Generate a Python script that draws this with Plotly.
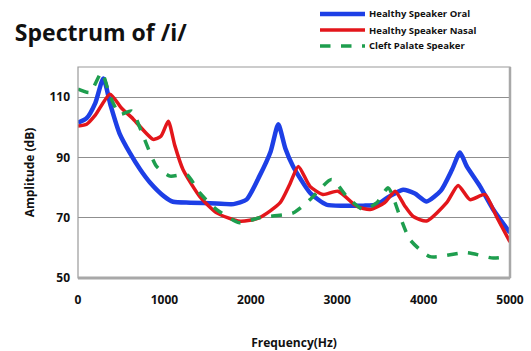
import plotly.graph_objects as go

oral_f = [0, 100, 200, 293, 380, 480, 600, 720, 833, 1000, 1100, 1300, 1600, 1800, 1950, 2100, 2230, 2318, 2400, 2490, 2685, 2878, 3100, 3300, 3457, 3600, 3762, 3900, 4035, 4200, 4330, 4421, 4500, 4653, 4800, 5000]
oral_a = [101.5, 103, 108, 116.2, 107, 98, 91.5, 86, 81.7, 77, 75.3, 75, 74.7, 74.5, 76, 83.8, 92, 101, 93, 87, 78.3, 74.3, 74, 74, 74.3, 77, 79.3, 78, 75.4, 79, 86, 91.6, 87, 80.4, 73, 65]

nasal_f = [0, 100, 200, 370, 500, 640, 870, 960, 1045, 1120, 1215, 1410, 1605, 1875, 2100, 2340, 2450, 2550, 2685, 2835, 3010, 3225, 3380, 3550, 3670, 3780, 3880, 4035, 4267, 4400, 4537, 4710, 4850, 5000]
nasal_a = [100.4, 101, 104, 111, 106.5, 102.7, 96, 97, 102, 94, 86, 77, 71.6, 68.8, 70, 75, 81, 87, 80.4, 77.7, 78.8, 73.8, 72.7, 75, 78.8, 74, 70.4, 68.9, 75, 80.7, 76, 77.7, 70, 62]

cleft_f = [0, 139, 274, 370, 486, 620, 756, 910, 1065, 1258, 1410, 1605, 1875, 2100, 2490, 2685, 2935, 3110, 3300, 3457, 3590, 3727, 3843, 4074, 4498, 4807, 5000]
cleft_a = [112.7, 111.6, 118.2, 110.4, 104.3, 105.4, 97, 87, 83.8, 84.3, 78.2, 72.7, 68.3, 70, 71.6, 76, 82.7, 77.1, 72.7, 74.9, 79.9, 70.4, 62.7, 57.1, 58.4, 56.6, 57.2]

series_names = ["Healthy Speaker Oral", "Healthy Speaker Nasal", "Cleft Palate Speaker"]
x_ticks = [0, 1000, 2000, 3000, 4000, 5000]
y_ticks = [50, 70, 90, 110]

FONT = "Open Sans"
colors = ["#1d3fe6", "#e3161b", "#1e9e4e"]
widths = [4.5, 3.5, 3.5]
dashes = ["solid", "solid", "dash"]

fig = go.Figure()
for f, a, nm, c, w, d in zip([oral_f, nasal_f, cleft_f], [oral_a, nasal_a, cleft_a],
                             series_names, colors, widths, dashes):
    fig.add_trace(go.Scatter(x=f, y=a, mode="lines", name=nm, showlegend=False,
                             line=dict(color=c, width=w, dash=d, shape="spline", smoothing=0.6)))

# manual legend (pixel positions converted to paper coords)
W, H = 531, 351
L, R, T, B = 78, 21, 67, 73
pw, ph = W - L - R, H - T - B
def px(x): return (x - L) / pw
def py(y): return (H - B - y) / ph
leg_y = [14, 30, 46]
for nm, c, w, d, yy in zip(series_names, colors, widths, dashes, leg_y):
    fig.add_shape(type="line", xref="paper", yref="paper", x0=px(320), x1=px(365), y0=py(yy), y1=py(yy),
                  line=dict(color=c, width=w, dash=d))
    fig.add_annotation(xref="paper", yref="paper", x=px(367), y=py(yy), xanchor="left", yanchor="middle",
                       text=f"<b>{nm}</b>", showarrow=False, font=dict(family=FONT, size=9.5, color="#111"))

# plot-area 3D-ish frame
fig.add_shape(type="rect", xref="paper", yref="paper", x0=0, x1=1, y0=0, y1=1,
              line=dict(color="#9a9a9a", width=1.2), layer="above")
fig.add_shape(type="line", xref="paper", yref="paper", x0=0, x1=1, y0=0, y1=0,
              line=dict(color="#a8a8a8", width=3), layer="above")
fig.add_shape(type="line", xref="paper", yref="paper", x0=1, x1=1, y0=0, y1=1,
              line=dict(color="#a8a8a8", width=2.5), layer="above")

fig.update_layout(
    width=W, height=H,
    margin=dict(l=L, r=R, t=T, b=B, autoexpand=False),
    paper_bgcolor="white", plot_bgcolor="white",
    showlegend=False,
    title=dict(text="<b>Spectrum of /i/</b>", x=0.028, xanchor="left", y=0.905, yanchor="middle",
               font=dict(family=FONT, size=23, color="#111")),
    font=dict(family=FONT, color="#111"),
    xaxis=dict(range=[0, 5000], tickvals=x_ticks, ticktext=[f"<b>{v}</b>" for v in x_ticks],
               showgrid=False, zeroline=False, showline=False, ticks="", automargin=False,
               tickfont=dict(size=12), ticklabelstandoff=13,
               title=dict(text="<b>Frequency(Hz)</b>", font=dict(size=12), standoff=36)),
    yaxis=dict(range=[50, 120], tickvals=y_ticks, ticktext=[f"<b>{v}</b>" for v in y_ticks],
               showgrid=True, gridcolor="#8f8f8f", gridwidth=1, zeroline=False, showline=False,
               ticks="", tickfont=dict(size=12), ticklabelstandoff=7, automargin=False,
               title=dict(text="<b>Amplitude (dB)</b>", font=dict(size=12), standoff=12)),
)

fig.write_html("out.html")
